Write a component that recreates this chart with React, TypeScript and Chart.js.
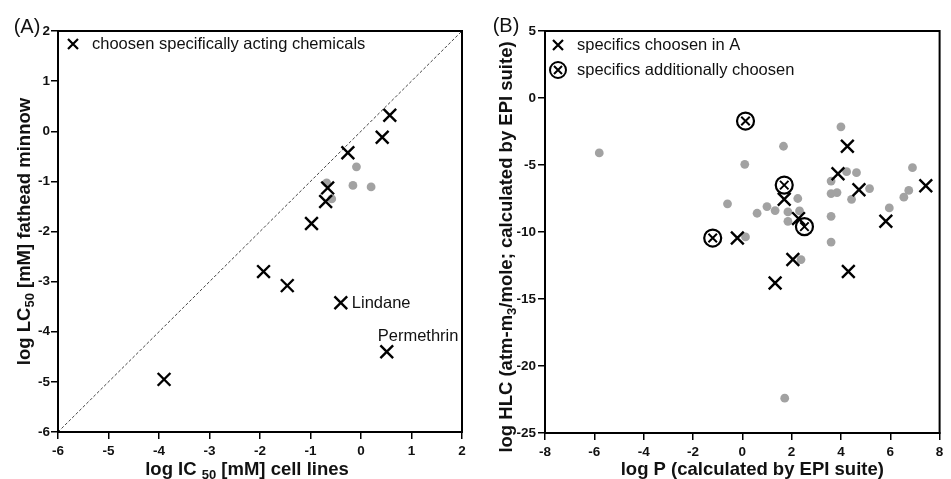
import React, { useEffect, useRef } from "react";
import { Chart, registerables } from "chart.js";

Chart.register(...registerables);

// ---------- Panel A data ----------
const aCrossX = [0.57, 0.42, -0.26, -0.66, -0.7, -0.98, -1.93, -1.46, -0.4, 0.51, -3.9];
const aCrossY = [0.32, -0.12, -0.43, -1.13, -1.4, -1.84, -2.8, -3.08, -3.42, -4.4, -4.95];
const aCrossNames = ["", "", "", "", "", "", "", "", "Lindane", "Permethrin", ""];
const aGrayX = [-0.09, -0.16, 0.2, -0.68, -0.58];
const aGrayY = [-0.71, -1.08, -1.11, -1.03, -1.35];
const aDiagX = [-6, 2];
const aDiagY = [-6, 2];
const aXRange = [-6, 2];
const aYRange = [-6, 2];
const aLegend = "choosen specifically acting chemicals";

// ---------- Panel B data ----------
const bGrayX = [-5.8, 0.1, 1.67, 4.0, 6.9, -0.6, 0.6, 1.0, 1.33, 1.85, 1.85, 2.25, 2.32, 0.13, 3.6, 3.6, 3.84, 3.6, 4.23, 4.63, 4.43, 5.16, 5.96, 6.55, 6.75, 3.6, 2.38, 1.72];
const bGrayY = [-4.1, -4.95, -3.6, -2.15, -5.2, -7.9, -8.6, -8.1, -8.4, -8.5, -9.2, -7.5, -8.43, -10.37, -6.2, -7.13, -7.06, -8.83, -5.5, -5.57, -7.56, -6.76, -8.2, -7.4, -6.9, -10.75, -12.06, -22.4];
const bCrossX = [4.26, 3.88, 4.73, 7.44, 5.82, 1.7, 2.28, -0.2, 2.05, 1.33, 4.3];
const bCrossY = [-3.6, -5.65, -6.85, -6.55, -9.2, -7.55, -9.0, -10.45, -12.05, -13.8, -12.95];
const bCircX = [0.13, 1.7, 2.52, -1.2];
const bCircY = [-1.72, -6.5, -9.6, -10.45];
const bXRange = [-8, 8];
const bYRange = [-25, 5];
const bLegend = ["specifics choosen in A", "specifics additionally choosen"];

const FONT = "'Liberation Sans', Arial, Helvetica, sans-serif";
const GRAY = "#a2a2a2";
const TITLE_SIZE = 18.5;
const TEXT_SIZE = 16.5;

type Part = { t: string; sub?: boolean };

function drawRich(ctx: CanvasRenderingContext2D, parts: Part[], cx: number, cy: number, size: number, rotate: boolean) {
  ctx.save();
  ctx.translate(cx, cy);
  if (rotate) ctx.rotate(-Math.PI / 2);
  const subSize = Math.round(size * 0.72);
  const widths = parts.map((p) => {
    ctx.font = `bold ${p.sub ? subSize : size}px ${FONT}`;
    return ctx.measureText(p.t).width;
  });
  const total = widths.reduce((a, b) => a + b, 0);
  let x = -total / 2;
  ctx.fillStyle = "#111";
  ctx.textBaseline = "alphabetic";
  ctx.textAlign = "left";
  parts.forEach((p, i) => {
    ctx.font = `bold ${p.sub ? subSize : size}px ${FONT}`;
    ctx.fillText(p.t, x, size * 0.36 + (p.sub ? size * 0.22 : 0));
    x += widths[i];
  });
  ctx.restore();
}

function drawX(ctx: CanvasRenderingContext2D, x: number, y: number, h: number, lw: number) {
  ctx.save();
  ctx.strokeStyle = "#000";
  ctx.lineWidth = lw;
  ctx.beginPath();
  ctx.moveTo(x - h, y - h);
  ctx.lineTo(x + h, y + h);
  ctx.moveTo(x - h, y + h);
  ctx.lineTo(x + h, y - h);
  ctx.stroke();
  ctx.restore();
}

function toPts(xs: number[], ys: number[]) {
  return xs.map((x, i) => ({ x, y: ys[i] }));
}

function scaleOpts(min: number, max: number, step: number, isX: boolean, size: number, pad: number) {
  return {
    type: "linear" as const,
    min,
    max,
    ticks: {
      stepSize: step,
      autoSkip: false,
      color: "#111",
      font: { family: FONT, size: 13.5, weight: "bold" as const },
      padding: pad,
    },
    grid: {
      drawOnChartArea: false,
      drawTicks: true,
      tickLength: 7,
      color: "#000",
      lineWidth: 1.5,
    },
    border: { display: true, color: "#000", width: 2 },
    afterFit: (s: any) => {
      if (isX) {
        s.height = size;
        s.paddingLeft = 0;
        s.paddingRight = 0;
      } else {
        s.width = size;
        s.paddingTop = 0;
        s.paddingBottom = 0;
      }
    },
  };
}

function framePlugin(id: string) {
  return {
    id,
    afterDraw(chart: any) {
      const { ctx, chartArea } = chart;
      ctx.save();
      ctx.strokeStyle = "#000";
      ctx.lineWidth = 2;
      ctx.strokeRect(chartArea.left, chartArea.top, chartArea.right - chartArea.left, chartArea.bottom - chartArea.top);
      ctx.restore();
    },
  };
}

function ChartA() {
  const ref = useRef<HTMLCanvasElement>(null);
  useEffect(() => {
    const deco = {
      id: "decoA",
      afterDraw(chart: any) {
        const { ctx, chartArea, scales } = chart;
        ctx.save();
        ctx.fillStyle = "#111";
        ctx.font = `20px ${FONT}`;
        ctx.textAlign = "center";
        ctx.textBaseline = "middle";
        ctx.fillText("(A)", 27, 27);
        // legend
        drawX(ctx, 73, 44, 5, 2.2);
        ctx.font = `${TEXT_SIZE}px ${FONT}`;
        ctx.textAlign = "left";
        ctx.fillText(aLegend, 92, 44);
        // annotations
        aCrossNames.forEach((n, i) => {
          if (!n) return;
          const px = scales.x.getPixelForValue(aCrossX[i]);
          const py = scales.y.getPixelForValue(aCrossY[i]);
          if (n === "Lindane") {
            ctx.fillText(n, px + 11, py + 1);
          } else {
            ctx.fillText(n, px - 9, py - 15);
          }
        });
        ctx.restore();
        drawRich(ctx, [{ t: "log IC " }, { t: "50", sub: true }, { t: " [mM] cell lines" }], (chartArea.left + chartArea.right) / 2 - 13, 468, TITLE_SIZE, false);
        drawRich(ctx, [{ t: "log LC" }, { t: "50", sub: true }, { t: " [mM] fathead minnow" }], 23, (chartArea.top + chartArea.bottom) / 2, TITLE_SIZE, true);
      },
    };
    const chart = new Chart(ref.current as HTMLCanvasElement, {
      type: "scatter",
      data: {
        datasets: [
          {
            label: "chosen",
            data: toPts(aCrossX, aCrossY),
            pointStyle: "crossRot",
            pointRadius: 9,
            borderColor: "#000",
            borderWidth: 2.4,
            order: 1,
          } as any,
          {
            label: "other",
            data: toPts(aGrayX, aGrayY),
            pointStyle: "circle",
            pointRadius: 4.4,
            backgroundColor: GRAY,
            borderColor: GRAY,
            borderWidth: 0,
            order: 2,
          },
          {
            type: "line",
            label: "diag",
            data: toPts(aDiagX, aDiagY),
            borderColor: "#444",
            borderWidth: 1,
            borderDash: [3, 2],
            pointRadius: 0,
            showLine: true,
            order: 3,
          } as any,
        ],
      },
      options: {
        animation: false,
        responsive: false,
        devicePixelRatio: 1,
        layout: { padding: { left: 0, right: 13, top: 31, bottom: 0 } },
        plugins: { legend: { display: false }, tooltip: { enabled: false } },
        scales: {
          x: scaleOpts(aXRange[0], aXRange[1], 1, true, 47, 4),
          y: scaleOpts(aYRange[0], aYRange[1], 1, false, 58, 1),
        } as any,
      },
      plugins: [framePlugin("frameA"), deco],
    });
    return () => chart.destroy();
  }, []);
  return <canvas ref={ref} width={475} height={479} style={{ position: "absolute", left: 0, top: 0 }} />;
}

function ChartB() {
  const ref = useRef<HTMLCanvasElement>(null);
  useEffect(() => {
    const deco = {
      id: "decoB",
      afterDraw(chart: any) {
        const { ctx, chartArea } = chart;
        ctx.save();
        ctx.fillStyle = "#111";
        ctx.font = `20px ${FONT}`;
        ctx.textAlign = "center";
        ctx.textBaseline = "middle";
        ctx.fillText("(B)", 31, 26);
        // legend
        drawX(ctx, 83, 45, 5, 2.2);
        ctx.beginPath();
        ctx.strokeStyle = "#000";
        ctx.lineWidth = 2;
        ctx.arc(83, 70, 8, 0, Math.PI * 2);
        ctx.stroke();
        drawX(ctx, 83, 70, 4, 2);
        ctx.font = `${TEXT_SIZE}px ${FONT}`;
        ctx.textAlign = "left";
        ctx.fillText(bLegend[0], 102, 45);
        ctx.fillText(bLegend[1], 102, 70);
        ctx.restore();
        drawRich(ctx, [{ t: "log P (calculated by EPI suite)" }], (chartArea.left + chartArea.right) / 2 + 10, 468, TITLE_SIZE, false);
        drawRich(ctx, [{ t: "log HLC (atm-m" }, { t: "3", sub: true }, { t: "/mole; calculated by EPI suite)" }], 30, 247, TITLE_SIZE, true);
      },
    };
    const chart = new Chart(ref.current as HTMLCanvasElement, {
      type: "scatter",
      data: {
        datasets: [
          {
            label: "chosen in A",
            data: toPts(bCrossX, bCrossY),
            pointStyle: "crossRot",
            pointRadius: 9,
            borderColor: "#000",
            borderWidth: 2.4,
            order: 1,
          } as any,
          {
            label: "additional ring",
            data: toPts(bCircX, bCircY),
            pointStyle: "circle",
            pointRadius: 8.5,
            backgroundColor: "rgba(255,255,255,0)",
            borderColor: "#000",
            borderWidth: 2.2,
            order: 1,
          } as any,
          {
            label: "additional x",
            data: toPts(bCircX, bCircY),
            pointStyle: "crossRot",
            pointRadius: 6,
            borderColor: "#000",
            borderWidth: 2,
            order: 1,
          } as any,
          {
            label: "other",
            data: toPts(bGrayX, bGrayY),
            pointStyle: "circle",
            pointRadius: 4.4,
            backgroundColor: GRAY,
            borderColor: GRAY,
            borderWidth: 0,
            order: 2,
          },
        ],
      },
      options: {
        animation: false,
        responsive: false,
        devicePixelRatio: 1,
        layout: { padding: { left: 0, right: 3, top: 31, bottom: 0 } },
        plugins: { legend: { display: false }, tooltip: { enabled: false } },
        scales: {
          x: scaleOpts(bXRange[0], bXRange[1], 2, true, 46, 4),
          y: scaleOpts(bYRange[0], bYRange[1], 5, false, 70, 2),
        } as any,
      },
      plugins: [framePlugin("frameB"), deco],
    });
    return () => chart.destroy();
  }, []);
  return <canvas ref={ref} width={476} height={479} style={{ position: "absolute", left: 475, top: 0 }} />;
}

export default function App() {
  return (
    <div style={{ position: "fixed", left: 0, top: 0, width: 951, height: 479, background: "#fff", overflow: "hidden" }}>
      <ChartA />
      <ChartB />
    </div>
  );
}
